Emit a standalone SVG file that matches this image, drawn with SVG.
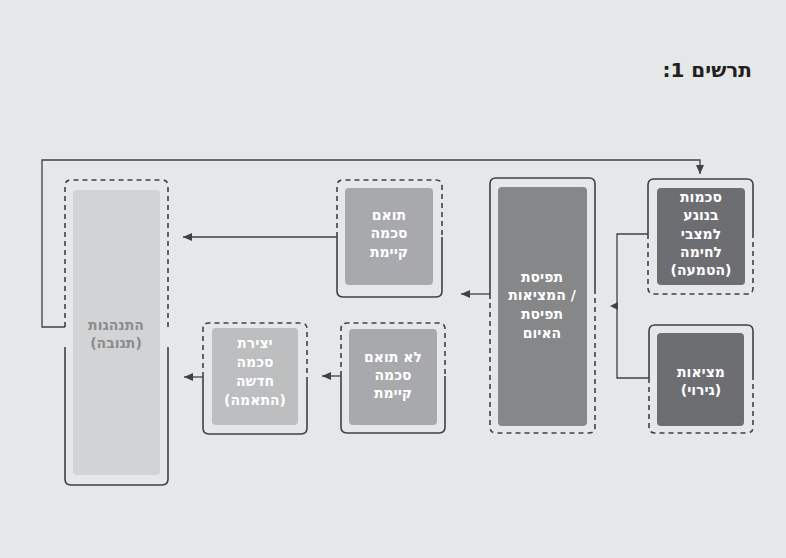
<svg xmlns="http://www.w3.org/2000/svg" width="786" height="558" viewBox="0 0 786 558">
<defs>
<style>
.bg{fill:#e6e7e8}
.frame{fill:none;stroke:#414042;stroke-width:1.6}
.dash{fill:none;stroke:#414042;stroke-width:1.6;stroke-dasharray:5 4}
.conn{fill:none;stroke:#414042;stroke-width:1.3}
.lbl{font-family:"DejaVu Sans","Liberation Sans",sans-serif;font-weight:bold;font-size:14px;text-anchor:middle;fill:#ffffff}
.title{font-family:"DejaVu Sans","Liberation Sans",sans-serif;font-weight:bold;font-size:20px;fill:#231f20}
</style>
<marker id="ah" markerUnits="userSpaceOnUse" markerWidth="10" markerHeight="9" refX="9" refY="4.5" orient="auto">
<path d="M0,0.5 L9,4.5 L0,8.5 z" fill="#414042"/>
</marker>
</defs>
<rect class="bg" x="0" y="0" width="786" height="558"/>
<text class="title" x="752" y="77" text-anchor="end">:1 תרשים</text>

<g id="connectors">
<polyline class="conn" points="65,327 42,327 42,160 700,160 700,174" marker-end="url(#ah)"/>
<polyline class="conn" points="648,234 617,234 617,378 649,378"/>
<path d="M610,306 L618,302 L618,310 z" fill="#414042"/>
<line class="conn" x1="490" y1="294" x2="461" y2="294" marker-end="url(#ah)"/>
<line class="conn" x1="337" y1="237" x2="183" y2="237" marker-end="url(#ah)"/>
<line class="conn" x1="341" y1="376" x2="322" y2="376" marker-end="url(#ah)"/>
<line class="conn" x1="203" y1="377" x2="184" y2="377" marker-end="url(#ah)"/>
</g>

<g id="n1">
<path class="frame" d="M648,234 V185 Q648,179 654,179 H747 Q753,179 753,185 V234"/>
<path class="dash" d="M648,234 V288 Q648,294 654,294 H747 Q753,294 753,288 V234"/>
<rect x="657" y="188" width="88" height="97" rx="4" fill="#6d6e71"/>
<text class="lbl" x="701" y="202">סכמות</text>
<text class="lbl" x="701" y="220">בנוגע</text>
<text class="lbl" x="701" y="239">למצבי</text>
<text class="lbl" x="701" y="257">לחימה</text>
<text class="lbl" x="701" y="275">(הטמעה)</text>
</g>

<g id="n2">
<path class="frame" d="M649,378 V331 Q649,325 655,325 H747 Q753,325 753,331 V378"/>
<path class="dash" d="M649,378 V427 Q649,433 655,433 H747 Q753,433 753,427 V378"/>
<rect x="657" y="333" width="87" height="93" rx="4" fill="#6d6e71"/>
<text class="lbl" x="701" y="377">מציאות</text>
<text class="lbl" x="701" y="395">(גירוי)</text>
</g>

<g id="n3">
<path class="frame" d="M490,294 V184 Q490,178 496,178 H589 Q595,178 595,184 V294"/>
<path class="dash" d="M490,294 V427 Q490,433 496,433 H589 Q595,433 595,427 V294"/>
<rect x="498" y="187" width="89" height="239" rx="4" fill="#858789"/>
<text class="lbl" x="542" y="282">תפיסת</text>
<text class="lbl" x="542" y="300">המציאות /</text>
<text class="lbl" x="542" y="319">תפיסת</text>
<text class="lbl" x="542" y="338">האיום</text>
</g>

<g id="n4">
<path class="dash" d="M337,237 V186 Q337,180 343,180 H436 Q442,180 442,186 V237"/>
<path class="frame" d="M337,237 V291 Q337,297 343,297 H436 Q442,297 442,291 V237"/>
<rect x="345" y="188" width="88" height="97" rx="4" fill="#a7a9ac"/>
<text class="lbl" x="389" y="220">תואם</text>
<text class="lbl" x="389" y="238">סכמה</text>
<text class="lbl" x="389" y="257">קיימת</text>
</g>

<g id="n5">
<path class="dash" d="M341,376 V329 Q341,323 347,323 H439 Q445,323 445,329 V376"/>
<path class="frame" d="M341,376 V427 Q341,433 347,433 H439 Q445,433 445,427 V376"/>
<rect x="349" y="329" width="88" height="96" rx="4" fill="#a7a9ac"/>
<text class="lbl" x="393" y="362">לא תואם</text>
<text class="lbl" x="393" y="380">סכמה</text>
<text class="lbl" x="393" y="398">קיימת</text>
</g>

<g id="n6">
<path class="dash" d="M203,377 V329 Q203,323 209,323 H301 Q307,323 307,329 V377"/>
<path class="frame" d="M203,377 V428 Q203,434 209,434 H301 Q307,434 307,428 V377"/>
<rect x="212" y="328" width="86" height="97" rx="4" fill="#bcbec0"/>
<text class="lbl" x="255" y="348">יצירת</text>
<text class="lbl" x="255" y="367">סכמה</text>
<text class="lbl" x="255" y="386">חדשה</text>
<text class="lbl" x="255" y="405">(התאמה)</text>
</g>

<g id="n7">
<path class="dash" d="M65,327 V186 Q65,180 71,180 H162 Q168,180 168,186 V327"/>
<path class="frame" d="M65,347 V479 Q65,485 71,485 H162 Q168,485 168,479 V347"/>
<rect x="73" y="190" width="87" height="285" rx="4" fill="#d1d3d4"/>
<text class="lbl" x="116" y="330" style="fill:#8a8c8e">התנהגות</text>
<text class="lbl" x="116" y="348" style="fill:#8a8c8e">(תגובה)</text>
</g>
</svg>
